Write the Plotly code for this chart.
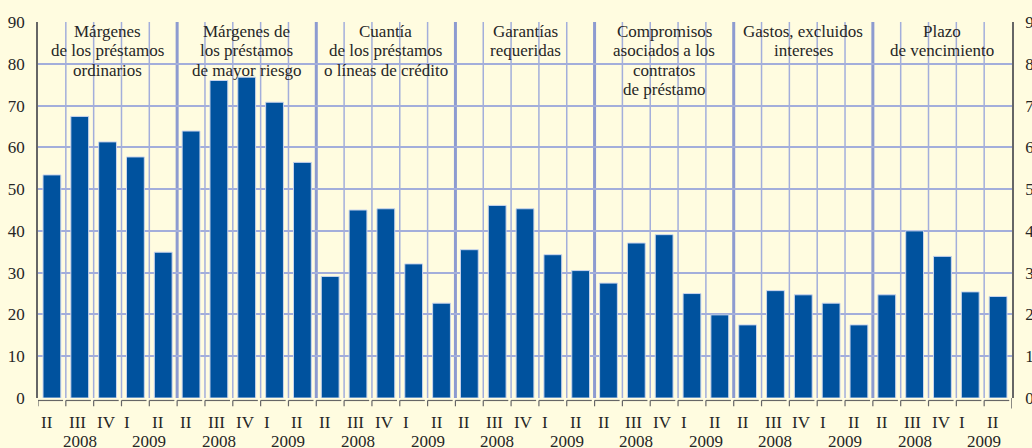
import plotly.graph_objects as go

# ---- data ----
group_titles = [
    ["Márgenes", "de los préstamos", "ordinarios"],
    ["Márgenes de", "los préstamos", "de mayor riesgo"],
    ["Cuantía", "de los préstamos", "o líneas de crédito"],
    ["Garantías", "requeridas"],
    ["Compromisos", "asociados a los", "contratos", "de préstamo"],
    ["Gastos, excluidos", "intereses"],
    ["Plazo", "de vencimiento"],
]
quarters = ["II", "III", "IV", "I", "II"]
years = ["2008", "2009"]
margenes_ordinarios = [53.4, 67.4, 61.3, 57.7, 34.9]
margenes_riesgo = [63.9, 76.0, 76.8, 70.8, 56.4]
cuantia = [29.1, 45.0, 45.3, 32.1, 22.7]
garantias = [35.5, 46.1, 45.3, 34.3, 30.5]
compromisos = [27.5, 37.1, 39.1, 25.0, 19.9]
gastos = [17.5, 25.7, 24.7, 22.7, 17.5]
plazo = [24.7, 40.0, 33.9, 25.4, 24.3]
series = [margenes_ordinarios, margenes_riesgo, cuantia, garantias,
          compromisos, gastos, plazo]

# ---- styling ----
BG = "#fffce0"
BAR = "#00529e"
GRID = "#a3aedb"
SEP = "#8d9bd0"
AXIS = "#666666"
TXT = "#262626"
FONT = "Liberation Serif, Times New Roman, serif"

n_per = len(quarters)
xs, ys = [], []
for g, vals in enumerate(series):
    for q, v in enumerate(vals):
        xs.append(g * n_per + q)
        ys.append(v)
n = len(xs)

fig = go.Figure()
fig.add_trace(go.Bar(x=xs, y=ys, marker=dict(color=BAR, line=dict(color="#c9d5ee", width=1)),
                     width=0.64, hoverinfo="y", showlegend=False))

shapes = []
# vertical separators
for i in range(1, n):
    b = i - 0.5
    if i % n_per == 0:
        shapes.append(dict(type="line", xref="x", yref="paper", x0=b, x1=b, y0=0, y1=1,
                           line=dict(color=SEP, width=3), layer="below"))
    else:
        shapes.append(dict(type="line", xref="x", yref="paper", x0=b, x1=b, y0=0, y1=1,
                           line=dict(color=GRID, width=1.5), layer="below"))
# custom x-axis bracket ticks
yl = -0.0066
for i in range(n):
    b = i - 0.5
    shapes.append(dict(type="line", xref="x", yref="paper", x0=b, x1=b + 0.9, y0=yl, y1=yl,
                       line=dict(color=AXIS, width=1.2)))
    shapes.append(dict(type="line", xref="x", yref="paper", x0=b, x1=b, y0=yl, y1=-0.022,
                       line=dict(color=AXIS, width=1.2)))
shapes.append(dict(type="line", xref="x", yref="paper", x0=n - 0.5, x1=n - 0.5, y0=0, y1=-0.028,
                   line=dict(color=AXIS, width=1.5)))

annotations = []
for g, lines in enumerate(group_titles):
    cx = g * n_per + (n_per - 1) / 2
    for k, line in enumerate(lines):
        annotations.append(dict(x=cx, y=1, xref="x", yref="paper", text=line, showarrow=False,
                                xanchor="center", yanchor="middle", yshift=-9.7 - 19.2 * k,
                                font=dict(family=FONT, size=17, color=TXT)))
    for q, ql in enumerate(quarters):
        annotations.append(dict(x=g * n_per + q - 0.5, y=0, xref="x", yref="paper", text=ql,
                                showarrow=False, xanchor="left", yanchor="middle",
                                xshift=1, yshift=-24.5,
                                font=dict(family=FONT, size=17, color=TXT)))
    annotations.append(dict(x=g * n_per + 1, y=0, xref="x", yref="paper", text=years[0],
                            showarrow=False, xanchor="center", yanchor="middle", yshift=-43.5,
                            font=dict(family=FONT, size=17, color=TXT)))
    annotations.append(dict(x=g * n_per + 3.5, y=0, xref="x", yref="paper", text=years[1],
                            showarrow=False, xanchor="center", yanchor="middle", yshift=-43.5,
                            font=dict(family=FONT, size=17, color=TXT)))

ticks = list(range(0, 91, 10))
fig.update_layout(
    template="none",
    width=1032, height=448,
    margin=dict(l=38, r=20, t=22, b=50, autoexpand=False),
    paper_bgcolor=BG, plot_bgcolor=BG,
    bargap=0.36,
    xaxis=dict(range=[-0.5, n - 0.5], showticklabels=False, showgrid=False, zeroline=False,
               ticks="", showline=False, fixedrange=True, automargin=False),
    yaxis=dict(range=[0, 90], tickvals=ticks, showgrid=True, gridcolor=GRID, gridwidth=2,
               zeroline=False, showline=True, linecolor=AXIS, linewidth=1.5, ticks="",
               ticklabelstandoff=8, automargin=False,
               tickfont=dict(family=FONT, size=17, color=TXT)),
    yaxis2=dict(range=[0, 90], tickvals=ticks, overlaying="y", side="right", showgrid=False,
                zeroline=False, showline=True, linecolor=AXIS, linewidth=1.5, ticks="",
                ticklabelstandoff=8, automargin=False,
                tickfont=dict(family=FONT, size=17, color=TXT)),
    shapes=shapes, annotations=annotations,
    font=dict(family=FONT),
)
fig.add_trace(go.Scatter(x=[0], y=[None], yaxis="y2", showlegend=False, hoverinfo="skip"))

fig.write_html("out.html", config={"displayModeBar": False},
               post_script="document.body.style.margin='0px';document.body.style.overflow='hidden';")
